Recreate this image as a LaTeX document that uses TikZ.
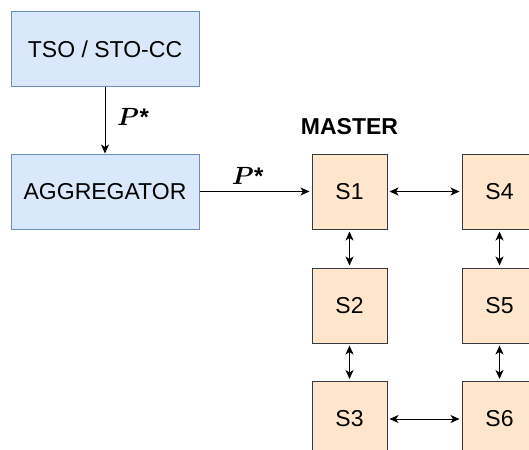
\documentclass[tikz,border=0pt]{standalone}
\usepackage{amsmath, amssymb}
\usepackage{fontspec}
\setmainfont{Liberation Sans}
\usepackage{tikz}
\usetikzlibrary{arrows.meta,positioning,calc}
\tikzset{
  mainbox/.style={draw, line width=1pt, align=center, inner sep=0pt,
                  font=\fontsize{23}{28}\selectfont},
  ctrlbox/.style={mainbox, fill=ctrlblue, draw=ctrlline,
                  minimum width=188pt, minimum height=75pt},
  subbox/.style ={mainbox, fill=suborange, draw=subline,
                  minimum width=75pt, minimum height=75pt},
  lbl/.style    ={inner sep=0pt, font=\fontsize{23}{28}\selectfont},
  plbl/.style   ={inner sep=0pt, font=\fontsize{26}{31}\selectfont},
  arr/.style    ={-{Stealth[length=9pt,width=8pt,inset=2.5pt]}, line width=1pt},
  barr/.style   ={{Stealth[length=9pt,width=8pt,inset=2.5pt]}-{Stealth[length=9pt,width=8pt,inset=2.5pt]},
                  line width=1pt, shorten <=2pt, shorten >=2pt},
}
\definecolor{ctrlblue} {HTML}{DAE8FC}
\definecolor{ctrlline} {HTML}{6C8EBF}
\definecolor{suborange}{HTML}{FFE6CC}
\definecolor{subline}  {HTML}{36393D}
\newcommand{\pset}{\ensuremath{\boldsymbol{P}}\kern0.5pt{\bfseries\fontsize{24}{28}\selectfont *}}

\begin{document}
\begin{tikzpicture}
  \useasboundingbox (0,0) rectangle (529pt,-449pt);
  \node[ctrlbox] (tso) at (105pt,-49.5pt) {TSO / STO-CC};
  \node[ctrlbox, below=66pt of tso] (agg) {AGGREGATOR};
  \node[subbox, right=112pt of agg] (s1) {S1};
  \node[subbox, below=38pt of s1] (s2) {S2};
  \node[subbox, below=37.5pt of s2] (s3) {S3};
  \node[subbox, right=74pt of s1] (s4) {S4};
  \node[subbox, below=38pt of s4] (s5) {S5};
  \node[subbox, below=37.5pt of s5] (s6) {S6};
  \node[lbl, above=19pt of s1, font=\fontsize{23}{28}\selectfont\bfseries] (master) {MASTER};
  % setpoint flow
  \coordinate (m1) at ($(tso.south)!0.45!(agg.north)$);
  \coordinate (m2) at ($(agg.east)!0.43!(s1.west)$);
  \node[plbl, right=12pt of m1] (p1) {\pset};
  \node[plbl, above=7pt of m2] (p2) {\pset};
  \draw[arr] (tso) -- (agg);
  \draw[arr, shorten >=2pt] (agg) -- (s1);
  % links between subsystems
  \draw[barr] (s1) -- (s4);
  \draw[barr] (s1) -- (s2);
  \draw[barr] (s2) -- (s3);
  \draw[barr] (s4) -- (s5);
  \draw[barr] (s5) -- (s6);
  \draw[barr] (s3) -- (s6);
\end{tikzpicture}
\end{document}
